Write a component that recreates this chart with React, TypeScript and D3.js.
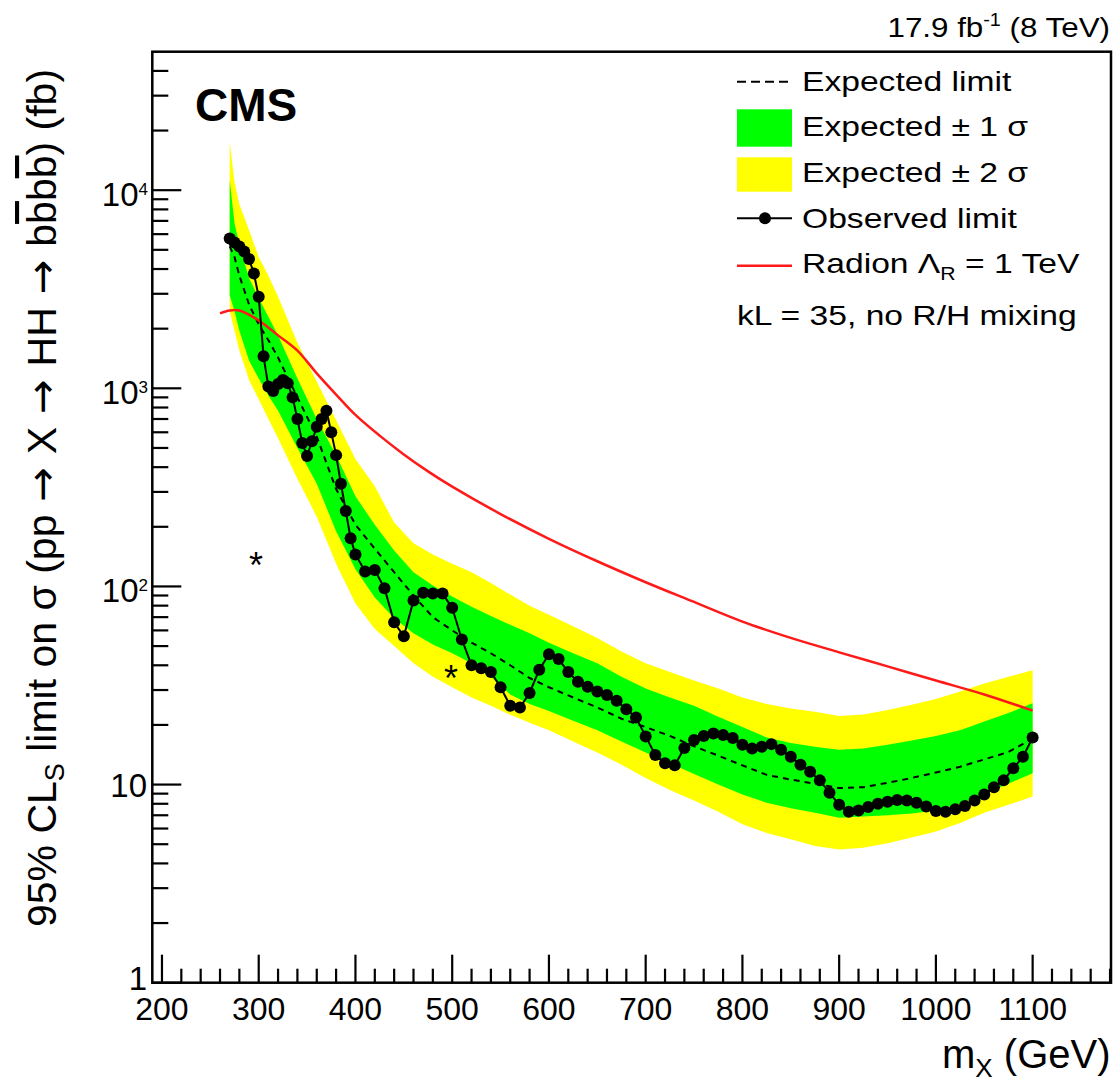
import React from 'react';
import * as d3 from 'd3';

// ---------- data ----------
const bandMass = [270, 275, 280, 290, 300, 310, 320, 340, 360, 380, 400, 420, 440, 460, 480, 500, 520, 540, 560, 580, 600, 625, 650, 675, 700, 725, 750, 775, 800, 825, 850, 875, 900, 925, 950, 975, 1000, 1025, 1050, 1075, 1100];
const expected = [5200, 4600, 3700, 2650, 2100, 1750, 1430, 900, 570, 310, 205, 155, 118, 90, 70, 60, 52, 46, 40, 34.5, 31, 27.5, 24.5, 21.5, 19.5, 17.6, 15.6, 14.0, 12.5, 11.2, 10.6, 10.1, 9.6, 9.7, 10.2, 10.8, 11.5, 12.3, 13.4, 14.6, 17.1];
const oneSigmaUp = [11200, 6800, 5300, 3600, 2850, 2300, 1850, 1120, 700, 460, 285, 205, 152, 118, 101, 89, 79, 71, 64, 58, 52, 46, 41, 35, 30.5, 27.5, 25, 22, 19.5, 17.3, 16.2, 15.5, 15.0, 15.2, 15.9, 16.7, 17.6, 18.8, 20.8, 23, 25.7];
const oneSigmaDown = [2950, 2450, 1950, 1380, 1120, 920, 770, 500, 330, 190, 122, 88, 69, 58, 51, 46, 41, 35, 28.5, 25.5, 23.5, 21, 18.8, 16.5, 14.5, 12.8, 11.3, 10.0, 8.9, 8.1, 7.6, 7.2, 6.8, 6.9, 7.0, 7.15, 7.4, 8.0, 9.0, 10.1, 11.4];
const twoSigmaUp = [17500, 11000, 8500, 6300, 4600, 3700, 2900, 1700, 1080, 690, 440, 320, 210, 165, 145, 130, 118, 104, 91, 80, 72, 63, 55, 47, 41, 37, 33.5, 30.5, 27.5, 25.5, 24.2, 23.3, 22.2, 22.6, 23.8, 25.3, 27, 29.5, 32.4, 35, 37.8];
const twoSigmaDown = [2450, 1950, 1550, 1100, 880, 700, 560, 350, 225, 130, 82, 61, 50, 41, 35, 31, 27.5, 25, 22.5, 20.5, 18.8, 16.5, 14.5, 12.6, 10.8, 9.4, 8.3, 7.3, 6.3, 5.7, 5.3, 4.9, 4.7, 4.8, 5.05, 5.4, 5.8, 6.4, 7.2, 7.9, 8.7];

const obsMass = [270, 275, 280, 285, 290, 295, 300, 305, 310, 315, 320, 325, 330, 335, 340, 345, 350, 355, 360, 365, 370, 375, 380, 385, 390, 395, 400,
  410, 420, 430, 440, 450, 460, 470, 480, 490, 500, 510, 520, 530, 540, 550, 560, 570, 580, 590, 600, 610, 620, 630, 640, 650, 660, 670, 680, 690, 700,
  710, 720, 730, 740, 750, 760, 770, 780, 790, 800, 810, 820, 830, 840, 850, 860, 870, 880, 890, 900, 910, 920, 930, 940, 950, 960, 970, 980, 990, 1000,
  1010, 1020, 1030, 1040, 1050, 1060, 1070, 1080, 1090, 1100];
const obsValue = [5700, 5450, 5200, 4900, 4500, 3800, 2900, 1450, 1020, 970, 1050, 1100, 1060, 900, 700, 530, 455, 540, 640, 700, 770, 600, 460, 330, 240, 175, 145,
  119, 121, 98, 66, 56, 85, 93, 92, 92, 78, 54, 40, 38.6, 37, 31, 25, 24.5, 29, 38, 45.5, 43, 37, 33, 31.2, 29.5, 28.3, 26.5, 24, 21.8, 17.5,
  14.1, 12.8, 12.5, 15.3, 16.8, 17.6, 18.1, 17.8, 17.2, 15.9, 15.2, 15.5, 16.0, 15.0, 13.8, 12.6, 11.6, 10.5, 9.1, 7.9, 7.3, 7.4, 7.7, 8.0, 8.2, 8.35, 8.3, 8.1, 7.75, 7.35,
  7.3, 7.5, 7.8, 8.3, 8.9, 9.7, 10.5, 12.1, 13.8, 17.3];

const radionMass = [260, 270, 280, 300, 320, 340, 360, 380, 400, 425, 450, 475, 500, 550, 600, 650, 700, 750, 800, 850, 900, 950, 1000, 1050, 1100];
const radionValue = [2390, 2470, 2470, 2200, 1850, 1550, 1190, 930, 734, 577, 464, 381, 319, 232, 174, 134, 105, 83.5, 66.5, 55, 46.5, 39.5, 33.5, 28.5, 23.6];

const xMajorTicks = [200, 300, 400, 500, 600, 700, 800, 900, 1000, 1100];
const yMajorTicks = [1, 10, 100, 1000, 10000];
const yTickLabels = [{ base: '1', exp: '' }, { base: '10', exp: '' }, { base: '10', exp: '2' }, { base: '10', exp: '3' }, { base: '10', exp: '4' }];

// ---------- layout ----------
const W = 1116;
const H = 1088;
const L = 152.3, R = 1111, T = 51.7, B = 982.7;
const FONT = "'Liberation Sans', Arial, Helvetica, sans-serif";
const ARROW_FONT = "'DejaVu Sans', sans-serif";

const x = d3.scaleLinear().domain([190, 1181]).range([L, R]);
const y = d3.scaleLog().domain([1, 5e4]).range([B, T]);

export default function App() {
  const bandIdx = bandMass.map((_, i) => i);
  const area2 = d3.area<number>().x(i => x(bandMass[i])).y0(i => y(twoSigmaDown[i])).y1(i => y(twoSigmaUp[i]));
  const area1 = d3.area<number>().x(i => x(bandMass[i])).y0(i => y(oneSigmaDown[i])).y1(i => y(oneSigmaUp[i]));
  const expLine = d3.line<number>().x(i => x(bandMass[i])).y(i => y(expected[i]));
  const obsIdx = obsMass.map((_, i) => i);
  const obsLine = d3.line<number>().x(i => x(obsMass[i])).y(i => y(obsValue[i]));
  const radIdx = radionMass.map((_, i) => i);
  const radLine = d3.line<number>().x(i => x(radionMass[i])).y(i => y(radionValue[i])).curve(d3.curveCatmullRom.alpha(0.5));

  const yMinor: number[] = [];
  for (let k = 0; k < 5; k++) for (let m = 2; m <= 9; m++) { const v = m * Math.pow(10, k); if (v < 5e4) yMinor.push(v); }
  const xMinor: number[] = [];
  for (let v = 200; v <= 1180; v += 20) if (v % 100 !== 0) xMinor.push(v);

  const legX0 = 737, legX1 = 792, legText = 802;
  const legScale = 1.18;
  const legFont = 28.5;
  const arrow = (k: string) => <tspan key={k} fontFamily={ARROW_FONT}> → </tspan>;

  return (
    <svg width={W} height={H} style={{ position: 'absolute', left: 0, top: 0, background: '#fff' }} fontFamily={FONT}>
      <rect x={0} y={0} width={W} height={H} fill="#fff" />
      <path d={area2(bandIdx) || ''} fill="#ffff00" stroke="none" />
      <path d={area1(bandIdx) || ''} fill="#00ff00" stroke="none" />
      <path d={expLine(bandIdx) || ''} fill="none" stroke="#000" strokeWidth={2} strokeDasharray="6 5" />
      <path d={radLine(radIdx) || ''} fill="none" stroke="#ff1a1a" strokeWidth={2.5} />
      <path d={obsLine(obsIdx) || ''} fill="none" stroke="#000" strokeWidth={2} />
      {obsIdx.map(i => (
        <circle key={i} cx={x(obsMass[i])} cy={y(obsValue[i])} r={6} fill="#000" />
      ))}

      {/* frame */}
      <rect x={L} y={T} width={R - L} height={B - T} fill="none" stroke="#000" strokeWidth={2.5} />

      {/* y ticks */}
      {yMajorTicks.map(v => <line key={'ym' + v} x1={L} x2={L + 29} y1={y(v)} y2={y(v)} stroke="#000" strokeWidth={2.2} />)}
      {yMinor.map(v => <line key={'yn' + v} x1={L} x2={L + 16} y1={y(v)} y2={y(v)} stroke="#000" strokeWidth={2.2} />)}
      {/* x ticks */}
      {xMajorTicks.map(v => <line key={'xm' + v} x1={x(v)} x2={x(v)} y1={B} y2={B - 28} stroke="#000" strokeWidth={2.2} />)}
      {xMinor.map(v => <line key={'xn' + v} x1={x(v)} x2={x(v)} y1={B} y2={B - 14} stroke="#000" strokeWidth={2.2} />)}

      {/* x tick labels */}
      {xMajorTicks.map(v => (
        <text key={'xl' + v} x={x(v)} y={1020} fontSize={32} textAnchor="middle" fill="#000">{v}</text>
      ))}
      {/* y tick labels */}
      {yMajorTicks.map((v, i) => {
        const lab = yTickLabels[i];
        if (!lab.exp) {
          const dy = v === 1 ? 7 : 12;
          return <text key={'yl' + v} x={147} y={y(v) + dy} fontSize={33} textAnchor="end" fill="#000">{lab.base}</text>;
        }
        return (
          <g key={'yl' + v}>
            <text x={138.5} y={y(v) + 16} fontSize={33} textAnchor="end" fill="#000">{lab.base}</text>
            <text x={138.5} y={y(v) + 5} fontSize={17} fill="#000">{lab.exp}</text>
          </g>
        );
      })}

      {/* axis titles */}
      <text x={1110.5} y={1068} fontSize={40} textAnchor="end" fill="#000">
        m<tspan fontSize={26} dy={9}>X</tspan><tspan dy={-9}> (GeV)</tspan>
      </text>
      <text transform="translate(56,498) rotate(-90)" fontSize={41} textAnchor="middle" fill="#000">
        95% CL<tspan fontSize={27} dy={8}>S</tspan><tspan dy={-8}> limit on σ (pp</tspan>{arrow('a1')}X{arrow('a2')}HH{arrow('a3')}b<tspan style={{ textDecoration: 'overline' }}>b</tspan>b<tspan style={{ textDecoration: 'overline' }}>b</tspan>) (fb)
      </text>

      {/* top labels */}
      <text transform="translate(1110,37) scale(1.1,1)" fontSize={28.5} textAnchor="end" fill="#000">
        17.9 fb<tspan fontSize={18} dy={-11}>-1</tspan><tspan dy={11}> (8 TeV)</tspan>
      </text>
      <text x={195} y={121} fontSize={46} fontWeight="bold" fill="#000">CMS</text>

      {/* legend */}
      <line x1={legX0} x2={legX1} y1={81.7} y2={81.7} stroke="#000" strokeWidth={2} strokeDasharray="9 5" />
      <rect x={legX0} y={109.3} width={legX1 - legX0} height={37.4} fill="#00ff00" />
      <rect x={legX0} y={157.3} width={legX1 - legX0} height={34.4} fill="#ffff00" />
      <line x1={legX0} x2={legX1} y1={218.3} y2={218.3} stroke="#000" strokeWidth={2} />
      <circle cx={765} cy={218.3} r={6} fill="#000" />
      <line x1={legX0} x2={legX1} y1={265.7} y2={265.7} stroke="#ff1a1a" strokeWidth={2.5} />
      <text transform={`translate(${legText},90.7) scale(${legScale},1)`} fontSize={legFont} fill="#000">Expected limit</text>
      <text transform={`translate(${legText},136) scale(${legScale},1)`} fontSize={legFont} fill="#000">Expected ± 1 σ</text>
      <text transform={`translate(${legText},181.7) scale(${legScale},1)`} fontSize={legFont} fill="#000">Expected ± 2 σ</text>
      <text transform={`translate(${legText},227.5) scale(${legScale},1)`} fontSize={legFont} fill="#000">Observed limit</text>
      <text transform={`translate(${legText},273) scale(${legScale},1)`} fontSize={legFont} fill="#000">
        Radion Λ<tspan fontSize={18} dy={7}>R</tspan><tspan dy={-7}> = 1 TeV</tspan>
      </text>
      <text transform={`translate(737,325) scale(${legScale},1)`} fontSize={legFont} fill="#000">kL = 35, no R/H mixing</text>

      {/* annotations */}
      <text x={256} y={578} fontSize={36} textAnchor="middle" fill="#000">*</text>
      <text x={451} y={691} fontSize={36} textAnchor="middle" fill="#000">*</text>
    </svg>
  );
}
